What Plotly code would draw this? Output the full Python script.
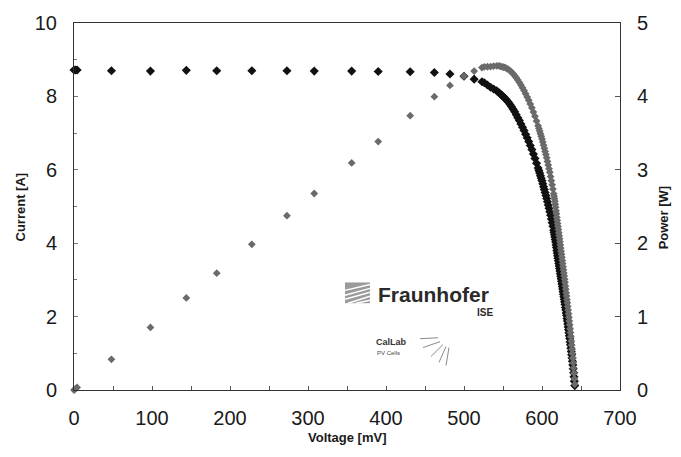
import plotly.graph_objects as go

# ---- data (voltage in mV, current in A, power in W) ----
voltage_mv = [0, 2, 4, 48, 98, 144, 183, 228, 273, 308, 356, 390, 431, 462, 482,
              500, 513, 523, 526, 530, 534, 538, 542, 545, 547, 549, 551, 553, 555,
              557, 559, 561, 563, 565, 567, 569, 571, 573, 575, 577, 579, 581, 583,
              585, 587, 589, 591, 593,
              595, 596, 597, 598, 599, 600, 601, 602, 603, 604, 605, 606, 607, 608,
              609, 610, 611, 612, 613, 614, 615,
              615.5, 616, 616.5, 617, 617.5, 618, 618.5, 619, 619.5, 620, 620.5, 621,
              621.5, 622, 622.5, 623, 623.5, 624, 624.5, 625, 625.5, 626, 626.5, 627,
              627.5, 628, 628.5, 629, 629.5, 630, 630.5, 631, 631.5, 632, 632.5, 633,
              633.5, 634, 634.5, 635, 635.5, 636, 636.5, 637, 637.5, 638, 638.5, 639,
              639.5, 640, 640.5, 641, 641.5, 642]
current_a = [8.72, 8.72, 8.72, 8.70, 8.69, 8.71, 8.70, 8.70, 8.70, 8.69, 8.69, 8.68,
             8.67, 8.65, 8.61, 8.55, 8.47, 8.40, 8.37, 8.31, 8.25, 8.20, 8.15, 8.10,
             8.06, 8.02, 7.98, 7.94, 7.89, 7.84, 7.78, 7.72, 7.65, 7.58, 7.50, 7.42,
             7.34, 7.25, 7.16, 7.07, 6.97, 6.87, 6.77, 6.66, 6.55, 6.43, 6.31, 6.18,
             6.05, 5.98, 5.91, 5.84, 5.77, 5.70, 5.62, 5.54, 5.46, 5.38, 5.30, 5.22,
             5.13, 5.04, 4.95, 4.86, 4.76, 4.66, 4.56, 4.46, 4.35,
             4.29, 4.23, 4.17, 4.10, 4.03, 3.95, 3.88, 3.80, 3.73, 3.66, 3.59, 3.52,
             3.45, 3.38, 3.31, 3.24, 3.17, 3.10, 3.03, 2.96, 2.89, 2.82, 2.75, 2.68,
             2.61, 2.54, 2.47, 2.40, 2.33, 2.25, 2.18, 2.10, 2.03, 1.95, 1.88, 1.80,
             1.72, 1.64, 1.56, 1.48, 1.40, 1.31, 1.23, 1.14, 1.05, 0.96, 0.87, 0.78,
             0.68, 0.58, 0.47, 0.36, 0.24, 0.12]
power_w = [0.0, 0.017, 0.035, 0.418, 0.852, 1.254, 1.592, 1.984, 2.375, 2.677, 3.094,
           3.385, 3.737, 3.996, 4.150, 4.275, 4.345, 4.393, 4.403, 4.404, 4.406, 4.412,
           4.417, 4.415, 4.409, 4.403, 4.397, 4.391, 4.379, 4.367, 4.349, 4.331, 4.307,
           4.283, 4.253, 4.222, 4.191, 4.154, 4.117, 4.079, 4.036, 3.991, 3.947, 3.896,
           3.845, 3.787, 3.729, 3.665,
           3.600, 3.564, 3.528, 3.492, 3.456, 3.420, 3.378, 3.335, 3.292, 3.250, 3.207,
           3.163, 3.114, 3.064, 3.015, 2.965, 2.908, 2.852, 2.795, 2.738, 2.675,
           2.640, 2.606, 2.571, 2.530, 2.489, 2.441, 2.400, 2.352, 2.311, 2.269, 2.228,
           2.186, 2.144, 2.102, 2.060, 2.019, 1.977, 1.934, 1.892, 1.850, 1.808, 1.765,
           1.723, 1.680, 1.638, 1.595, 1.552, 1.510, 1.467, 1.418, 1.374, 1.325, 1.282,
           1.232, 1.189, 1.139, 1.090, 1.040, 0.990, 0.940, 0.890, 0.833, 0.783, 0.726,
           0.669, 0.612, 0.555, 0.498, 0.435, 0.371, 0.301, 0.231, 0.154, 0.077]

x_range = [0, 700]
y_range = [0, 10]
y2_range = [0, 5]

TICKFONT = dict(family="Liberation Sans, Arial, sans-serif", size=20, color="#1a1a1a")
TITLEFONT = dict(family="Liberation Sans Narrow, Arial Narrow, Liberation Sans, sans-serif",
                 size=13, color="#1a1a1a")

fig = go.Figure()
fig.add_trace(go.Scatter(
    x=voltage_mv, y=current_a, mode="markers", name="Current",
    marker=dict(symbol="diamond", size=7, color="#111111"),
    cliponaxis=False, yaxis="y"))
fig.add_trace(go.Scatter(
    x=voltage_mv, y=power_w, mode="markers", name="Power",
    marker=dict(symbol="diamond", size=6, color="#6a6a6a"),
    cliponaxis=False, yaxis="y2"))

fig.update_layout(
    width=681, height=457,
    margin=dict(l=74, r=61, t=18, b=67),
    paper_bgcolor="white", plot_bgcolor="white",
    showlegend=False,
    xaxis=dict(range=x_range, dtick=100, tick0=0, showgrid=False, zeroline=False,
               showline=True, linecolor="#333333", linewidth=1, mirror=True,
               ticks="inside", ticklen=4, tickcolor="#555555",
               minor=dict(dtick=50, ticks="inside", ticklen=4, tickcolor="#555555"),
               tickfont=TICKFONT, ticklabelstandoff=10),
    yaxis=dict(range=y_range, dtick=2, tick0=0, showgrid=False, zeroline=False,
               showline=True, linecolor="#333333", linewidth=1,
               ticks="inside", ticklen=4, tickcolor="#777777",
               minor=dict(dtick=1, ticks="inside", ticklen=3, tickcolor="#777777"),
               tickfont=TICKFONT, ticklabelstandoff=12),
    yaxis2=dict(range=y2_range, dtick=1, tick0=0, overlaying="y", side="right",
                showgrid=False, zeroline=False, showline=True, linecolor="#333333",
                linewidth=1, ticks="inside", ticklen=5, tickcolor="#555555",
                tickfont=TICKFONT, ticklabelstandoff=12),
)

def note(text, x, y, font, angle=0):
    fig.add_annotation(text=text, xref="paper", yref="paper", x=x, y=y,
                       xanchor="center", yanchor="middle", textangle=angle,
                       showarrow=False, font=font)

# ---- pixel helper for decorations ----
def px(xp, yp):
    return (xp - 74) / 546.0, (390 - yp) / 372.0

# axis titles
note("<b>Current [A]</b>", *px(20, 205), TITLEFONT, -90)
note("<b>Power [W]</b>", *px(663, 215), TITLEFONT, -90)
note("<b>Voltage [mV]</b>", *px(347, 438), TITLEFONT)

# Fraunhofer icon: gray square with white stripes
x0, y0 = px(345, 281)
x1, y1 = px(370, 302)
fig.add_shape(type="rect", xref="paper", yref="paper", x0=x0, y0=y1, x1=x1, y1=y0,
              fillcolor="#9a9a9a", line=dict(width=0))
for (ax_, ay_, bx_, by_) in [(345, 289, 370, 283), (345, 294, 370, 287),
                             (345, 298, 370, 291), (348, 302, 370, 295),
                             (356, 302, 370, 299)]:
    a = px(ax_, ay_); b = px(bx_, by_)
    fig.add_shape(type="line", xref="paper", yref="paper", x0=a[0], y0=a[1],
                  x1=b[0], y1=b[1], line=dict(color="white", width=1.5))

LOGOFONT = "Liberation Sans, Arial, sans-serif"
note("<b>Fraunhofer</b>", *px(433, 293), dict(family=LOGOFONT, size=21, color="#2a2a2a"))
note("<b>ISE</b>", *px(485, 311), dict(family=LOGOFONT, size=10, color="#2a2a2a"))
note("<b>CalLab</b>", *px(391, 341), dict(family=LOGOFONT, size=9, color="#333333"))
note("PV Cells", *px(388, 353), dict(family=LOGOFONT, size=6, color="#444444"))

# rays icon
for (ax_, ay_, bx_, by_) in [(438, 337, 420, 338), (440, 341, 423, 347),
                             (443, 344, 431, 356), (446, 346, 439, 362),
                             (449, 347, 446, 365)]:
    a = px(ax_, ay_); b = px(bx_, by_)
    fig.add_shape(type="line", xref="paper", yref="paper", x0=a[0], y0=a[1],
                  x1=b[0], y1=b[1], line=dict(color="#8a8a8a", width=1))

fig.write_html("out.html")
